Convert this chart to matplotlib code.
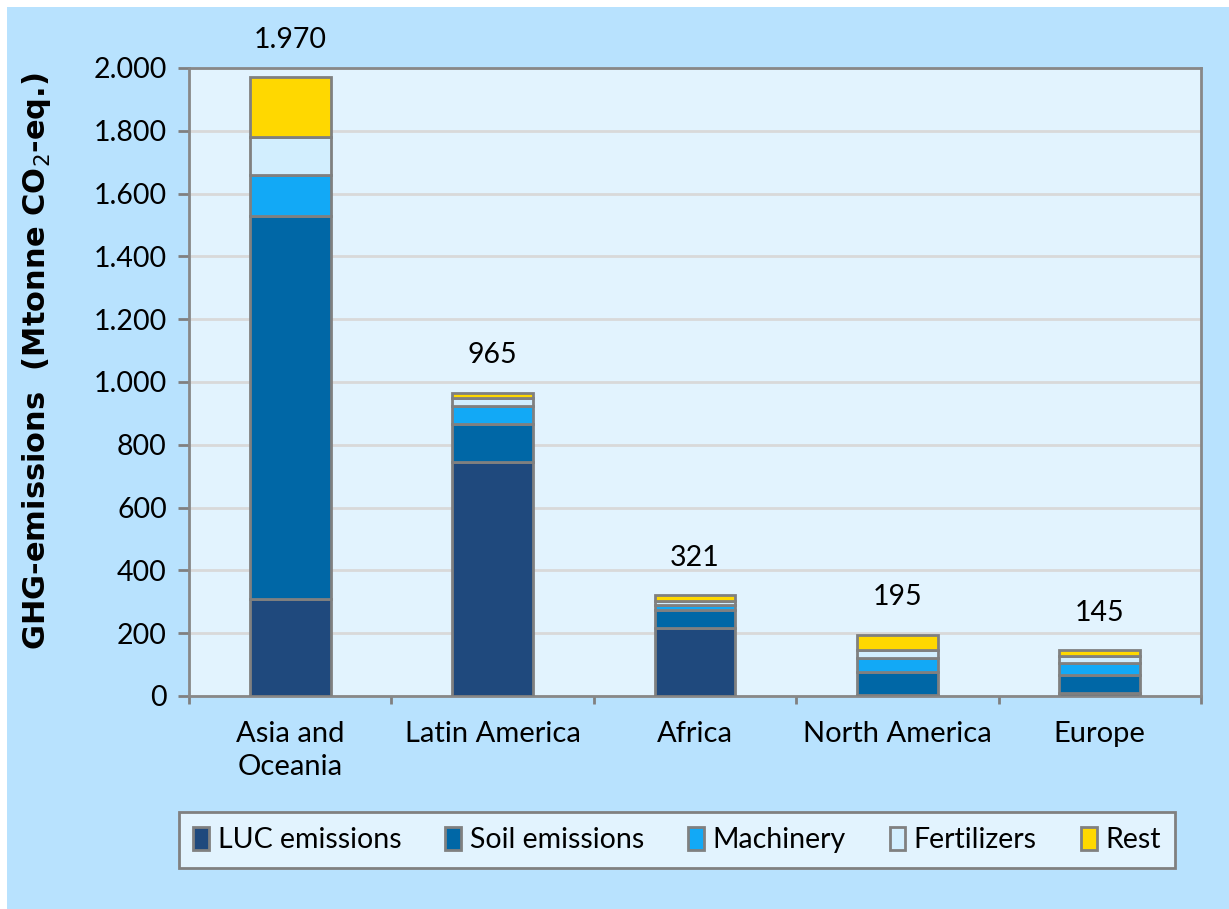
import matplotlib
matplotlib.use("Agg")
import matplotlib.pyplot as plt
from matplotlib.patches import Rectangle
from matplotlib.ticker import FuncFormatter, MultipleLocator, FixedLocator
import numpy as np

# Regions and GHG emission components (Mtonne CO2-eq.)
regions = ["Asia and\nOceania", "Latin America", "Africa", "North America", "Europe"]
totals = [1970, 965, 321, 195, 145]
luc = [310, 745, 215, 3, 10]
soil = [1220, 120, 60, 73, 57]
machinery = [130, 60, 15, 45, 38]
fertilizers = [120, 25, 12, 25, 22]
rest = [190, 15, 19, 49, 18]

series_names = ["LUC emissions", "Soil emissions", "Machinery", "Fertilizers", "Rest"]
series_values = [luc, soil, machinery, fertilizers, rest]
series_colors = ["#1F497D", "#0067A6", "#12A9F6", "#D2EEFE", "#FFD800"]

plt.rcParams["font.family"] = ["Lato", "DejaVu Sans"]
FS = 20.5

W, H = 1229, 909
fig = plt.figure(figsize=(W / 100, H / 100), dpi=100)
fig.patch.set_facecolor("white")
fig.add_artist(Rectangle((7 / W, 0), 1 - 7 / W, 1 - 7 / H, transform=fig.transFigure,
                         facecolor="#B8E2FE", edgecolor="none", zorder=-10))

ax = fig.add_axes([189 / W, (H - 696) / H, (1201 - 189) / W, (696 - 68) / H])
ax.set_facecolor("#E2F3FE")

x = np.arange(len(regions))
bottom = np.zeros(len(regions))
for name, vals, col in zip(series_names, series_values, series_colors):
    vals = np.array(vals, dtype=float)
    ax.bar(x, vals, width=0.4, bottom=bottom, color=col, edgecolor="#808080",
           linewidth=2, label=name, zorder=3)
    bottom += vals

fmt = lambda v: f"{int(round(v)):,}".replace(",", ".")
for xi, t in zip(x, totals):
    ax.annotate(fmt(t), (xi, t), xytext=(0, 27), textcoords="offset points",
                ha="center", va="center", fontsize=FS, annotation_clip=False)

ax.set_xlim(-0.5, len(regions) - 0.5)
ax.set_ylim(0, 2000)
ax.yaxis.set_major_locator(MultipleLocator(200))
ax.yaxis.set_major_formatter(FuncFormatter(lambda v, p: fmt(v)))
ax.grid(axis="y", color="#D9D9D9", linewidth=2, zorder=0)
ax.set_axisbelow(True)

ax.set_xticks(x)
ax.set_xticklabels(regions, fontsize=21, linespacing=1.35)
ax.xaxis.set_minor_locator(FixedLocator(np.arange(-0.5, len(regions), 1.0)))
ax.tick_params(axis="x", which="major", length=0, pad=18)
ax.tick_params(axis="x", which="minor", length=6, width=2, color="#808080")
ax.tick_params(axis="y", length=8, width=2, color="#808080", labelsize=FS, pad=8)

for s in ax.spines.values():
    s.set_color("#888888")
    s.set_linewidth(2)

fig.text(37 / W, 1 - 361 / H, "GHG-emissions  (Mtonne CO$_2$-eq.)", rotation=90,
         ha="center", va="center", fontsize=22, fontweight="bold",
         family="DejaVu Sans")

leg = fig.legend(loc="center", bbox_to_anchor=(677 / W, 1 - 840 / H), ncol=5,
                 fontsize=FS, frameon=True, fancybox=False, edgecolor="#808080",
                 facecolor="#E2F3FE", framealpha=1, handlelength=0.55,
                 handleheight=0.9, handletextpad=0.3, columnspacing=1.55,
                 borderpad=0.5)
leg.get_frame().set_linewidth(2)

fig.savefig("out.png", dpi=100)
